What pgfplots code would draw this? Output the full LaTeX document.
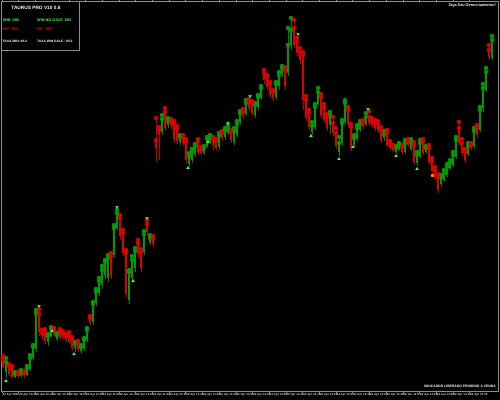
\documentclass[border=0pt]{standalone}
\usepackage{pgfplots}
\pgfplotsset{compat=1.18}
\usepackage{pgfplotstable}
\usepackage{fontspec}
\setmainfont{Liberation Sans}
\definecolor{cgreen}{RGB}{0,155,0}
\definecolor{cred}{RGB}{220,0,0}
\definecolor{agreen}{RGB}{70,255,70}
\definecolor{framegray}{RGB}{140,140,140}

% candles in pixel units (y grows downward): x open close high(top) low(bottom)
\pgfplotstableread{
x o c hi lo
3 360 367 356 368
6 372 362 358 378
9 366 374 364 376
12 368 377 366 378
15 377 374 372 378
18 374 376 372 378
21 376 373 370 378
24 373 376 371 378
27 375 368 366 376
30 369 358 355 371
33 358 347 345 360
36 349 313 310 352
39 314 332 309 336
42 333 336 330 340
45 332 341 329 344
48 342 336 334 346
51 336 329 327 338
54 330 335 328 337
57 339 335 333 341
60 331 338 329 340
63 333 337 331 339
66 336 340 334 342
69 334 342 332 344
72 339 348 337 351
75 348 344 342 352
78 343 350 341 352
81 351 347 345 354
84 349 340 338 351
87 340 330 328 342
90 318 323 316 326
93 322 304 302 325
96 303 292 289 306
99 293 281 278 296
102 285 270 266 289
105 275 262 260 279
108 278 258 255 282
111 256 276 253 279
114 255 228 225 258
117 228 213 210 230
120 218 236 215 240
123 233 253 230 256
126 253 294 250 298
129 300 272 270 304
132 278 260 256 281
135 268 251 248 272
138 243 254 240 258
141 252 268 249 272
144 252 234 231 255
147 224 232 220 236
150 243 238 235 245
153 239 244 236 247
156 140 148 118 162
159 130 135 127 160
162 132 119 115 135
165 112 128 108 131
168 125 121 118 128
171 122 126 119 129
174 124 139 121 143
177 129 141 126 144
180 142 137 135 145
183 137 143 135 146
186 142 160 139 164
189 164 156 153 167
192 160 151 149 163
195 154 146 144 157
198 141 152 139 155
201 150 153 147 155
204 153 148 146 155
207 146 139 137 148
210 142 137 135 144
213 139 145 137 150
216 141 148 139 151
219 147 136 133 150
222 133 138 131 141
225 137 130 128 140
228 133 128 125 135
231 132 140 130 143
234 142 131 128 145
237 135 124 121 137
240 122 113 111 125
243 112 116 109 119
246 114 103 100 116
249 102 108 99 111
252 103 113 101 116
255 115 105 103 118
258 107 97 95 110
261 98 88 86 100
264 73 80 70 84
267 77 87 75 90
270 84 95 82 98
273 92 98 90 101
276 97 84 82 100
279 86 75 72 90
282 74 68 66 77
285 70 86 67 90
288 73 45 28 76
291 45 30 18 50
294 28 45 20 48
297 42 53 38 56
300 52 60 48 64
303 55 100 52 110
306 100 118 96 121
309 113 127 110 130
312 132 126 122 135
315 127 107 104 130
318 104 92 88 106
321 97 115 94 118
324 108 120 104 123
327 117 128 114 131
330 125 115 112 134
333 123 133 117 136
336 133 146 128 149
339 152 143 137 156
342 143 123 120 146
345 122 103 100 125
348 110 124 107 127
351 127 148 124 151
354 145 138 135 147
357 138 128 125 141
360 130 124 121 132
363 123 127 120 129
366 124 117 113 126
369 117 123 111 126
372 121 125 118 128
375 123 128 120 131
378 124 130 121 133
381 130 140 127 143
384 138 134 131 141
387 133 145 130 147
390 143 148 141 150
393 147 150 145 152
396 152 148 146 154
399 149 145 143 151
402 147 152 145 154
405 152 143 140 154
408 142 145 139 147
411 149 142 139 151
414 145 162 142 165
417 163 155 152 166
420 156 143 140 158
423 142 153 139 155
426 152 148 146 154
429 148 162 145 165
432 161 171 158 174
435 170 177 167 180
438 177 190 174 193
441 184 177 175 187
444 180 173 170 182
447 175 167 164 177
450 168 163 160 170
453 165 155 152 167
456 157 140 137 159
459 128 143 122 146
462 143 153 139 156
465 152 160 149 163
468 154 146 143 156
471 145 148 143 150
474 146 131 128 149
477 128 135 125 138
480 130 110 107 132
483 108 88 84 112
486 90 72 68 92
489 50 57 45 60
492 58 40 36 60
}\candles

\begin{document}
\begin{tikzpicture}
\useasboundingbox (0,0) rectangle (500bp,400bp);
\clip (0,0) rectangle (500bp,400bp);
\fill[black] (0,0) rectangle (500bp,400bp);
\begin{axis}[
  at={(1bp,9bp)}, anchor=south west,
  scale only axis, width=497bp, height=390bp,
  xmin=1, xmax=498, ymin=1, ymax=391, y dir=reverse,
  axis background/.style={fill=black},
  axis line style={draw=framegray, line width=0.6bp},
  ytick=\empty,
  xtick={2,18.7,...,474},
  xticklabels={22 Apr 2020,22 Apr 10:36,22 Apr 10:42,22 Apr 10:48,22 Apr 10:54,22 Apr 11:00,22 Apr 11:06,22 Apr 11:12,22 Apr 11:18,22 Apr 11:24,22 Apr 11:30,22 Apr 11:36,22 Apr 11:42,22 Apr 11:48,22 Apr 11:54,22 Apr 12:00,22 Apr 12:06,22 Apr 12:12,22 Apr 12:18,22 Apr 12:24,22 Apr 12:30,22 Apr 12:36,22 Apr 12:42,22 Apr 12:48,22 Apr 12:54,22 Apr 13:00,22 Apr 13:06,22 Apr 13:12,22 Apr 13:18},
  xticklabel style={font=\bfseries\fontsize{2.9}{3.2}\selectfont, text=white!85!black, anchor=north west, inner sep=0pt, yshift=-1.0bp, xshift=0.5bp},
  tick align=outside, major tick length=1.5bp,
  xtick style={draw=framegray, line width=0.5bp},
  clip=false,
]
% wicks
\addplot[cgreen, only marks, mark=none, forget plot,
  restrict expr to domain={\thisrow{o}-\thisrow{c}}{0.01:1000},
  error bars/.cd, y dir=plus, y explicit, error mark=none,
  error bar style={line width=0.6bp, cgreen!85!black}]
  table[x=x, y=hi, y error expr={\thisrow{lo}-\thisrow{hi}}] {\candles};
\addplot[cred, only marks, mark=none, forget plot,
  restrict expr to domain={\thisrow{c}-\thisrow{o}}{0.01:1000},
  error bars/.cd, y dir=plus, y explicit, error mark=none,
  error bar style={line width=0.6bp, cred!85!black}]
  table[x=x, y=hi, y error expr={\thisrow{lo}-\thisrow{hi}}] {\candles};
% bodies
\addplot[cgreen, only marks, mark=none, forget plot,
  restrict expr to domain={\thisrow{o}-\thisrow{c}}{0.01:1000},
  error bars/.cd, y dir=plus, y explicit, error mark=none,
  error bar style={line width=1.7bp, cgreen}]
  table[x=x, y expr={min(\thisrow{o},\thisrow{c})}, y error expr={max(abs(\thisrow{o}-\thisrow{c}),1)}] {\candles};
\addplot[cred, only marks, mark=none, forget plot,
  restrict expr to domain={\thisrow{c}-\thisrow{o}}{0.01:1000},
  error bars/.cd, y dir=plus, y explicit, error mark=none,
  error bar style={line width=1.7bp, cred}]
  table[x=x, y expr={min(\thisrow{o},\thisrow{c})}, y error expr={max(abs(\thisrow{o}-\thisrow{c}),1)}] {\candles};
% signal arrows
\addplot[only marks, mark=triangle*, mark size=1.5bp, color=agreen] coordinates {
(6,381) (74,354) (133,281) (188,168) (208,142) (311,136) (339,159) (353,147) (396,156) (417,169) (52,331)};
\addplot[only marks, mark=triangle*, mark size=1.5bp, color=agreen, mark options={rotate=180}] coordinates {
(39,306) (117,207) (147,218) (228,123) (368,109) (250,96) (298,34)};
\addplot[only marks, mark=square*, mark size=1.2bp, color=orange] coordinates {(432,175)};

% info box
\fill[black] (axis cs:1,1) rectangle (axis cs:79,50);
\draw[framegray, line width=0.6bp] (axis cs:1,1) rectangle (axis cs:79,50);
\node[anchor=center, text=white, font=\bfseries\fontsize{4.8}{5.5}\selectfont, inner sep=0pt] at (axis cs:36,8) {TAURUS PRO V10 0.8};
\node[anchor=west, text=agreen, font=\bfseries\fontsize{3.8}{4.5}\selectfont, inner sep=0pt] at (axis cs:3,20) {WIN\ \ 686};
\node[anchor=west, text=agreen, font=\bfseries\fontsize{3.8}{4.5}\selectfont, inner sep=0pt] at (axis cs:37,20) {WIN NO GALE\ \ 883};
\node[anchor=west, text=red, font=\bfseries\fontsize{3.8}{4.5}\selectfont, inner sep=0pt] at (axis cs:3,29) {HIT\ \ 354};
\node[anchor=west, text=red, font=\bfseries\fontsize{3.8}{4.5}\selectfont, inner sep=0pt] at (axis cs:37,29) {HIT\ \ 158};
\node[anchor=west, text=white, font=\bfseries\fontsize{3.3}{4}\selectfont, inner sep=0pt] at (axis cs:2.5,41) {TAXA WIN: 66.0};
\node[anchor=west, text=white, font=\bfseries\fontsize{3.3}{4}\selectfont, inner sep=0pt] at (axis cs:37,41) {TAXA WIN GALE : 85.0};
\node[anchor=east, text=white, font=\bfseries\fontsize{3.8}{4.5}\selectfont, inner sep=0pt] at (axis cs:496,6) {Siga Seu Gerenciamento!!};
\node[anchor=east, text=white, font=\bfseries\fontsize{3.4}{4}\selectfont, inner sep=0pt] at (axis cs:496,386) {INDICADOR LIBERADO PROIBIDO A VENDA};
\end{axis}
\end{tikzpicture}
\end{document}
